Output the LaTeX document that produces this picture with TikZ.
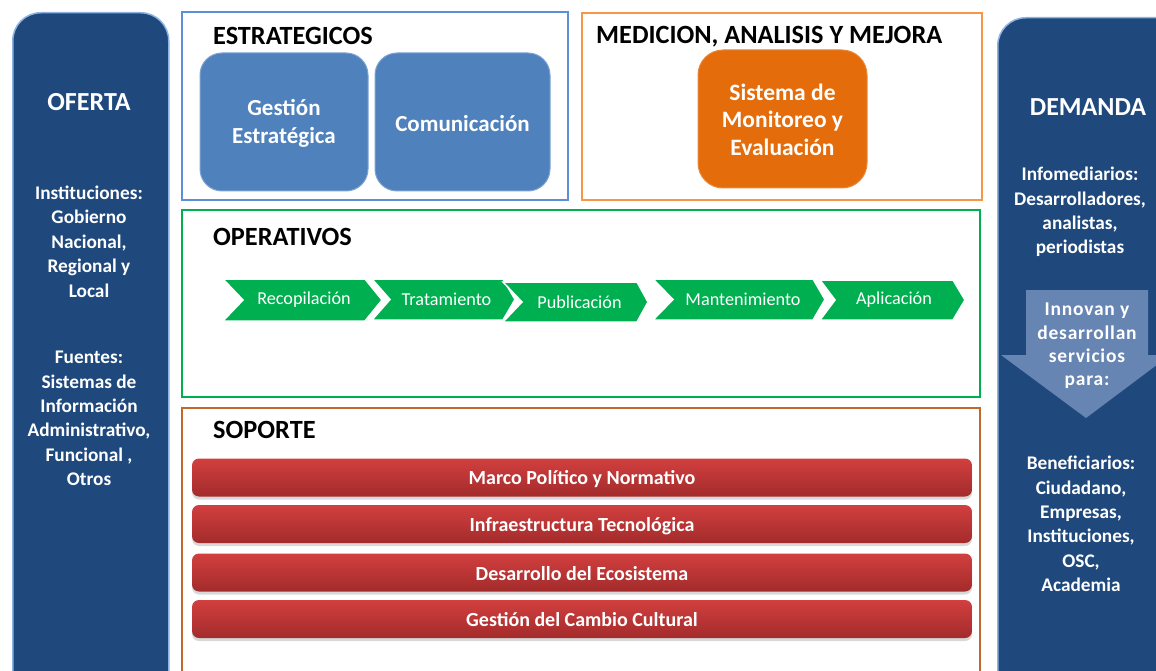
\documentclass[tikz,border=0pt]{standalone}
\usepackage{fontspec}
\setmainfont{Carlito}
\usetikzlibrary{shadows}
\definecolor{darkblue}{HTML}{1F497D}
\definecolor{glowblue}{HTML}{8DB3E2}
\definecolor{midblue}{HTML}{4F81BD}
\definecolor{midblueedge}{HTML}{7EA3D3}
\definecolor{estblue}{HTML}{5B8FD6}
\definecolor{medorange}{HTML}{F79646}
\definecolor{sysorange}{HTML}{E46C0A}
\definecolor{opgreen}{HTML}{00B050}
\definecolor{sopbrown}{HTML}{C0692A}
\definecolor{redtop}{HTML}{D23F3F}
\definecolor{redbot}{HTML}{A32B2B}
\definecolor{arrowblue}{HTML}{6785B2}
\newcommand\mychev[8]{%
  \path[chevfill] (#2,#6) -- (#4,#6) -- (#5,{(#6+#7)/2}) -- (#4,#7) -- (#2,#7) -- (#3,{(#6+#7)/2}) -- cycle;
  \node[chevtext] (#1) at ({(#3+#4)/2},{(#6+#7)/2}) {#8};}
\begin{document}
\begin{tikzpicture}[x=1pt,y=-1pt,
  darkbox/.style={draw=glowblue, line width=1.5pt, fill=darkblue, rounded corners=28pt, anchor=north west, inner sep=0pt},
  darktitle/.style={text=white, font=\bfseries\fontsize{26}{30}\selectfont, inner sep=0pt},
  darktext/.style={text=white, font=\bfseries\fontsize{19.3}{24.4}\selectfont, align=center, inner sep=0pt},
  frame/.style={draw=#1, line width=2pt, fill=white},
  sectitle/.style={anchor=west, inner sep=0pt, font=\bfseries\fontsize{26.3}{30}\selectfont, text=black},
  boxfill/.style={draw=midblueedge, line width=1pt, fill=midblue, rounded corners=22pt},
  boxtext/.style={text=white, font=\bfseries\fontsize{23}{28}\selectfont, align=center, inner sep=0pt},
  orangefill/.style={draw=sysorange!80!white, line width=1pt, fill=sysorange, rounded corners=25pt},
  orangetext/.style={text=white, font=\bfseries\fontsize{23.5}{27.5}\selectfont, align=center, inner sep=0pt},
  chevfill/.style={fill=opgreen, draw=white, line width=1.5pt},
  chevtext/.style={text=white, font=\fontsize{18.2}{21}\selectfont, inner sep=0pt},
  redbar/.style={rounded corners=7pt, top color=redtop, bottom color=redbot, draw=none, minimum width=780pt, minimum height=38pt, drop shadow={shadow xshift=0pt, shadow yshift=-3pt, opacity=0.3}},
  redtext/.style={text=white, font=\bfseries\fontsize{20}{23}\selectfont, inner sep=0pt},
  arrowshape/.style={fill=arrowblue},
]
\useasboundingbox (0,0) rectangle (1156,671);
\clip (0,0) rectangle (1156,671);
\fill[white] (0,0) rectangle (1156,671);

% side boxes
\node[darkbox, minimum width=156pt, minimum height=700pt] (oferta) at (12,12) {};
\node[darkbox, minimum width=190pt, minimum height=700pt] (demanda) at (997,17) {};

\node[darktitle] (ofertat) at (89,102) {OFERTA};
\node[darktext] (inst) at (89,241.5) {Instituciones:\\Gobierno\\Nacional,\\Regional y\\Local};
\node[darktext] (fuen) at (89,418.5) {Fuentes:\\Sistemas de\\Información\\Administrativo,\\Funcional ,\\Otros};

\node[darktitle] (demandat) at (1088,107) {DEMANDA};
\node[darktext] (info) at (1080,212) {Infomediarios:\\Desarrolladores,\\analistas,\\periodistas};
\path[arrowshape] (1026,290) -- (1148,290) -- (1148,355) -- (1170,355) -- (1086,418) -- (1001,355) -- (1026,355) -- cycle;
\node[darktext, font=\bfseries\fontsize{19.5}{23.3}\selectfont\addfontfeatures{LetterSpace=4}] (innov) at (1087,346) {Innovan y\\desarrollan\\servicios\\para:};
\node[darktext] (benef) at (1081,524) {Beneficiarios:\\Ciudadano,\\Empresas,\\Instituciones,\\OSC,\\Academia};

% ESTRATEGICOS
\draw[frame=estblue] (182,12) rectangle (568,200);
\node[sectitle] (estt) at (213,35.5) {ESTRATEGICOS};
\node[boxfill, minimum width=168pt, minimum height=138pt] (gest) at (284,122) {};
\node[boxtext] (gestt) at (284,123.5) {Gestión\\Estratégica};
\node[boxfill, minimum width=175pt, minimum height=138pt] (comu) at (462.5,122) {};
\node[boxtext] (comut) at (462.5,124) {Comunicación};

% MEDICION
\draw[frame=medorange] (582,13) rectangle (982,200);
\node[sectitle] (medt) at (596,36.5) {MEDICION, ANALISIS Y MEJORA};
\node[orangefill, minimum width=169pt, minimum height=138pt] (sme) at (782.5,119) {};
\node[orangetext] (smet) at (782.5,119.5) {Sistema de\\Monitoreo y\\Evaluación};

% OPERATIVOS
\draw[frame=opgreen] (182,210) rectangle (980,397);
\node[sectitle] (opt) at (213,236.5) {OPERATIVOS};
\mychev{rec}{223}{243}{365}{382}{279}{321}{Recopilación}
\mychev{tra}{372}{390}{503}{515}{279}{320}{Tratamiento}
\mychev{pub}{503}{522}{637}{648}{282}{322}{Publicación}
\mychev{man}{653}{673}{813}{825}{279}{320}{Mantenimiento}
\mychev{apl}{820}{835}{953}{965}{280}{320}{Aplicación}

% SOPORTE
\draw[frame=sopbrown] (182,408) rectangle (980,700);
\node[sectitle] (sopt) at (213,429.5) {SOPORTE};
\node[redbar] (marco) at (582,477.5) {};
\node[redtext] (marcot) at (582,479) {Marco Político y Normativo};
\node[redbar] (infra) at (582,524) {};
\node[redtext] (infrat) at (582,526) {Infraestructura Tecnológica};
\node[redbar] (desa) at (582,572.5) {};
\node[redtext] (desat) at (582,573.5) {Desarrollo del Ecosistema};
\node[redbar] (camb) at (582,619) {};
\node[redtext] (cambt) at (582,620) {Gestión del Cambio Cultural};
\end{tikzpicture}
\end{document}
